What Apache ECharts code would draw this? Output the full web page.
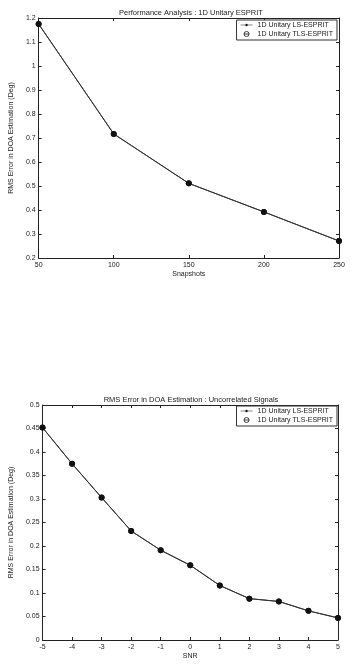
<!DOCTYPE html>
<html><head><meta charset="utf-8">
<script src="https://cdn.jsdelivr.net/npm/echarts@6/dist/echarts.min.js"></script>
<style>html,body{margin:0;padding:0;background:#fff}#c{width:356px;height:668px}</style>
</head><body><div id="c"></div>
<script>
var snapshots = [50, 100, 150, 200, 250];
var lsSnap = [1.175, 0.717, 0.511, 0.392, 0.271];
var tlsSnap = [1.175, 0.717, 0.511, 0.392, 0.271];
var snr = [-5, -4, -3, -2, -1, 0, 1, 2, 3, 4, 5];
var lsSnr = [0.452, 0.375, 0.303, 0.232, 0.191, 0.159, 0.116, 0.088, 0.082, 0.062, 0.047];
var tlsSnr = [0.452, 0.375, 0.303, 0.232, 0.191, 0.159, 0.116, 0.088, 0.082, 0.062, 0.047];
var titles = ['Performance Analysis : 1D Unitary ESPRIT', 'RMS Error in DOA Estimation : Uncorrelated Signals'];
var xNames = ['Snapshots', 'SNR'];
var yName = 'RMS Error in DOA Estimation (Deg)';
var seriesNames = ['1D Unitary LS-ESPRIT', '1D Unitary TLS-ESPRIT'];

function zip(xs, ys){ return xs.map(function(x,i){return [x, ys[i]];}); }

var FONT = 'Liberation Sans';
function xAx(gi, min, max, iv, name, pos){
  var main = pos === 'bottom';
  return {type:'value', gridIndex:gi, min:min, max:max, interval:iv, position:pos,
    name: main ? name : '', nameLocation:'middle', nameGap:13, nameTextStyle:{fontFamily:FONT,fontSize:7,color:'#222'},
    axisLine:{show:true, onZero:false, lineStyle:{color:'#222', width:1}},
    axisTick:{show:true, inside:true, length:3, lineStyle:{color:'#222'}},
    axisLabel:{show:main, margin:4, fontFamily:FONT, fontSize:7, color:'#222'},
    splitLine:{show:false}};
}
function yAx(gi, min, max, iv, pos){
  var main = pos === 'left';
  return {type:'value', gridIndex:gi, min:min, max:max, interval:iv, position:pos,
    name: main ? yName : '', nameLocation:'middle', nameGap:20, nameRotate:90, nameTextStyle:{fontFamily:FONT,fontSize:7,color:'#222'},
    axisLine:{show:true, onZero:false, lineStyle:{color:'#222', width:1}},
    axisTick:{show:true, inside:true, length:3, lineStyle:{color:'#222'}},
    axisLabel:{show:main, margin:3, fontFamily:FONT, fontSize:7, color:'#222'},
    splitLine:{show:false}};
}
var lsIcon = 'path://M0,4.6h20v0.8h-20zM10,3A2,2 0 1,1 9.99,3Z';
var tlsIcon = 'path://M10,2A3,3 0 1,1 9.99,2ZM7,5L13,5';
function legend(top){
  return {orient:'vertical', right:19, top:top, padding:[1,4,1,4], itemGap:0, itemWidth:12, itemHeight:5,
    borderColor:'#333', borderWidth:1, backgroundColor:'#fff',
    textStyle:{fontFamily:FONT, fontSize:7, color:'#222', lineHeight:8},
    data:[{name:seriesNames[0], icon:lsIcon, itemStyle:{color:'#111', borderWidth:0}},
          {name:seriesNames[1], icon:tlsIcon, itemStyle:{color:'none', borderColor:'#111', borderWidth:0.8}}]};
}
function lsSeries(xi, yi, data){
  return {name:seriesNames[0], type:'line', xAxisIndex:xi, yAxisIndex:yi, data:data,
    symbol:'circle', symbolSize:6, itemStyle:{color:'#111'}, lineStyle:{color:'#333', width:1}, z:3, animation:false};
}
function tlsSeries(xi, yi, data){
  return {name:seriesNames[1], type:'line', xAxisIndex:xi, yAxisIndex:yi, data:data,
    symbol:'circle', symbolSize:5, itemStyle:{color:'#fff', borderColor:'#111', borderWidth:1}, lineStyle:{color:'#333', width:1}, z:2, animation:false};
}
var chart = echarts.init(document.getElementById('c'), null, {renderer:'canvas'});
chart.setOption({
  backgroundColor:'#fff',
  animation:false,
  title:[
    {text:titles[0], left:186, textAlign:'center', top:4, textStyle:{fontFamily:FONT, fontSize:7.5, fontWeight:'normal', color:'#222'}},
    {text:titles[1], left:186, textAlign:'center', top:391, textStyle:{fontFamily:FONT, fontSize:7.5, fontWeight:'normal', color:'#222'}}
  ],
  legend:[legend(20), legend(406)],
  grid:[
    {left:33, top:18, right:17, height:240},
    {left:35, top:405, right:18, height:235}
  ],
  xAxis:[xAx(0,50,250,50,xNames[0],'bottom'), xAx(0,50,250,50,'','top'),
         xAx(1,-5,5,1,xNames[1],'bottom'), xAx(1,-5,5,1,'','top')],
  yAxis:[yAx(0,0.2,1.2,0.1,'left'), yAx(0,0.2,1.2,0.1,'right'),
         yAx(1,0,0.5,0.05,'left'), yAx(1,0,0.5,0.05,'right')],
  series:[
    tlsSeries(0,0,zip(snapshots,tlsSnap)), lsSeries(0,0,zip(snapshots,lsSnap)),
    tlsSeries(2,2,zip(snr,tlsSnr)), lsSeries(2,2,zip(snr,lsSnr))
  ]
});
</script></body></html>
